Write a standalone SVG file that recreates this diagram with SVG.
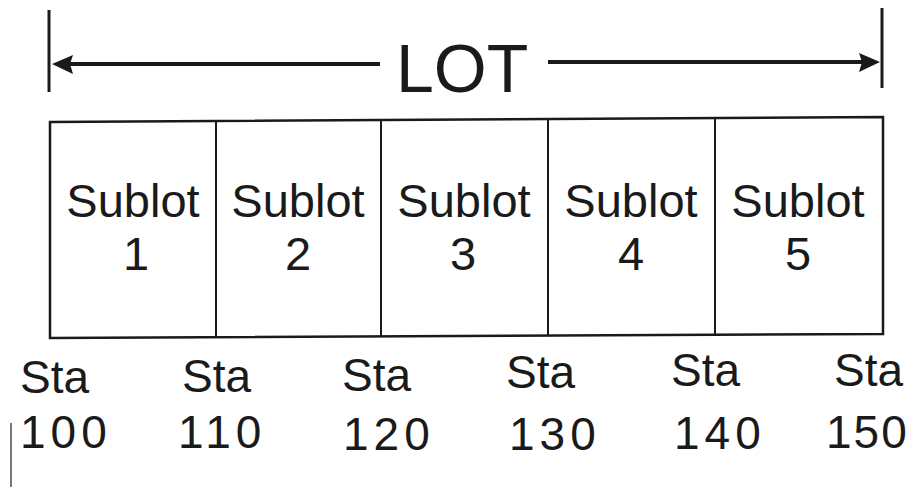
<svg xmlns="http://www.w3.org/2000/svg" width="913" height="487" viewBox="0 0 913 487">
<style>
.t{font-family:"Liberation Sans",Arial,sans-serif;fill:#1a1a1a}
.sub{font-size:47px;text-anchor:middle}
.sta{font-size:46px}
.num{font-size:46px;letter-spacing:5px}
.ln{stroke:#1a1a1a;fill:none}
</style>
<rect width="913" height="487" fill="#fff"/>
<g id="connectors">
<line class="ln" x1="49" y1="10" x2="49" y2="92" stroke-width="3"/>
<line class="ln" x1="882" y1="8" x2="882" y2="88" stroke-width="3"/>
<line class="ln" x1="68" y1="64" x2="380" y2="64" stroke-width="4"/>
<polygon points="52,64 73,55 70,64 73,74" fill="#1a1a1a"/>
<line class="ln" x1="548" y1="62" x2="864" y2="62" stroke-width="4"/>
<polygon points="880,62 859,53 862,62 859,72" fill="#1a1a1a"/>
<line x1="11" y1="423" x2="11" y2="487" stroke="#777" stroke-width="2"/>
</g>
<g id="lot-label"><text class="t" x="396" y="92" font-size="68">LOT</text></g>
<g id="lot-box">
<path class="ln" stroke-width="2.5" d="M50,122 L883,117 L883,334 L50,338 Z"/>
</g>
<g id="sublot1"><line class="ln" stroke-width="2" x1="216" y1="121" x2="216" y2="337"/><text class="t sub" x="133" y="217">Sublot</text><text class="t sub" x="136" y="270">1</text></g>
<g id="sublot2"><line class="ln" stroke-width="2" x1="381" y1="120" x2="381" y2="336"/><text class="t sub" x="298" y="217">Sublot</text><text class="t sub" x="298" y="270">2</text></g>
<g id="sublot3"><line class="ln" stroke-width="2" x1="548" y1="119" x2="548" y2="335"/><text class="t sub" x="464" y="217">Sublot</text><text class="t sub" x="463" y="270">3</text></g>
<g id="sublot4"><line class="ln" stroke-width="2" x1="715" y1="118" x2="715" y2="335"/><text class="t sub" x="631" y="217">Sublot</text><text class="t sub" x="631" y="270">4</text></g>
<g id="sublot5"><text class="t sub" x="798" y="217">Sublot</text><text class="t sub" x="798" y="270">5</text></g>
<g id="sta100"><text class="t sta" x="20" y="393">Sta</text><text class="t num" x="20" y="448">100</text></g>
<g id="sta110"><text class="t sta" x="182" y="392">Sta</text><text class="t num" x="178" y="448">110</text></g>
<g id="sta120"><text class="t sta" x="342" y="391">Sta</text><text class="t num" x="343" y="450">120</text></g>
<g id="sta130"><text class="t sta" x="506" y="388">Sta</text><text class="t num" x="509" y="450">130</text></g>
<g id="sta140"><text class="t sta" x="671" y="386">Sta</text><text class="t num" x="674" y="449">140</text></g>
<g id="sta150"><text class="t sta" x="834" y="386">Sta</text><text class="t num" x="826" y="448" style="letter-spacing:2px">150</text></g>
</svg>
